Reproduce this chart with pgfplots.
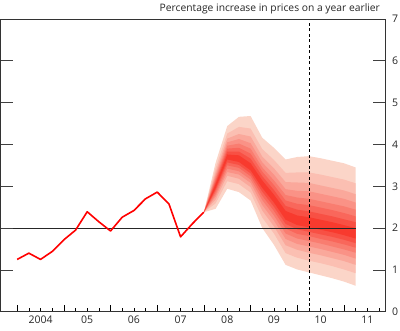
\documentclass[border=0pt]{standalone}
\usepackage{pgfplots}
\pgfplotsset{compat=1.18}
\usepackage{pgfplotstable}
\usepgfplotslibrary{fillbetween}
\usepackage{fontspec}
\setmainfont{Open Sans}
\definecolor{fanA}{RGB}{248,58,46}
\definecolor{fanZ}{RGB}{251,213,200}
\colorlet{f1}{fanA}
\colorlet{f2}{fanA!86!fanZ}
\colorlet{f3}{fanA!71!fanZ}
\colorlet{f4}{fanA!57!fanZ}
\colorlet{f5}{fanA!43!fanZ}
\colorlet{f6}{fanA!29!fanZ}
\colorlet{f7}{fanA!14!fanZ}
\colorlet{f8}{fanZ}

\pgfplotstableread{
q  u1   u2   u3   u4   u5   u6   u7   u8   l1   l2   l3   l4   l5   l6   l7   l8
16 2.38 2.38 2.38 2.38 2.38 2.38 2.38 2.38 2.38 2.38 2.38 2.38 2.38 2.38 2.38 2.38
17 3.05 3.10 3.15 3.20 3.26 3.33 3.43 3.56 2.95 2.91 2.86 2.80 2.75 2.68 2.59 2.46
18 3.76 3.83 3.90 3.97 4.05 4.14 4.26 4.44 3.64 3.57 3.50 3.42 3.34 3.25 3.12 2.94
19 3.74 3.83 3.92 4.02 4.13 4.25 4.42 4.66 3.58 3.51 3.44 3.36 3.28 3.18 3.05 2.86
20 3.55 3.66 3.78 3.90 4.03 4.19 4.38 4.68 3.38 3.31 3.24 3.16 3.08 2.98 2.85 2.66
21 3.14 3.24 3.35 3.45 3.57 3.71 3.89 4.16 2.96 2.87 2.77 2.67 2.55 2.42 2.25 2.00
22 2.80 2.91 3.03 3.14 3.28 3.43 3.63 3.92 2.61 2.51 2.41 2.30 2.18 2.04 1.87 1.60
23 2.41 2.53 2.66 2.79 2.93 3.10 3.32 3.64 2.20 2.10 1.99 1.87 1.74 1.59 1.40 1.12
24 2.30 2.44 2.58 2.73 2.89 3.09 3.33 3.70 2.07 1.97 1.86 1.75 1.62 1.48 1.29 1.01
25 2.26 2.40 2.55 2.70 2.88 3.08 3.33 3.72 2.02 1.91 1.81 1.69 1.56 1.41 1.22 0.94
26 2.20 2.34 2.49 2.64 2.82 3.02 3.28 3.67 1.96 1.85 1.74 1.63 1.50 1.35 1.16 0.87
27 2.14 2.28 2.43 2.58 2.76 2.96 3.22 3.61 1.90 1.79 1.68 1.56 1.43 1.28 1.09 0.80
28 2.07 2.21 2.36 2.52 2.70 2.90 3.16 3.55 1.83 1.72 1.61 1.49 1.36 1.21 1.01 0.72
29 2.00 2.14 2.28 2.44 2.61 2.81 3.07 3.45 1.75 1.64 1.53 1.41 1.27 1.12 0.92 0.62
}\fan

\pgfplotstableread{
q  v
0  1.25
1  1.40
2  1.25
3  1.44
4  1.72
5  1.95
6  2.39
7  2.15
8  1.93
9  2.26
10 2.42
11 2.70
12 2.86
13 2.58
14 1.79
15 2.10
16 2.38
}\cpi

\pgfplotsset{
  common/.style={
    scale only axis, width=385pt, height=292.7pt,
    xmin=-1.43, xmax=31.56, ymin=0, ymax=7,
    axis line style={black!80, line width=0.7pt},
    tick align=inside,
    every tick label/.append style={font=\fontsize{10.5}{12}\selectfont, text=black!85},
    /pgf/number format/assume math mode=true,
  }
}

\begin{document}
\begin{tikzpicture}
% main axis: data + quarterly ticks
\begin{axis}[common,
  xtick pos=bottom, ytick=\empty,
  xtick={0,4,...,28}, xticklabels={},
  minor xtick={1,2,3,5,6,7,9,10,11,13,14,15,17,18,19,21,22,23,25,26,27,29,30,31},
  major tick length=7pt, minor tick length=3.5pt,
  xtick style={black, line width=0.7pt},
]
\pgfplotsinvokeforeach{8,7,6,5,4,3,2,1}{
  \addplot[draw=none, name path=u#1, forget plot] table[x=q, y=u#1]{\fan};
  \addplot[draw=none, name path=l#1, forget plot] table[x=q, y=l#1]{\fan};
  \addplot[fill=f#1, draw=none, forget plot] fill between[of=u#1 and l#1];
}
\addplot[black!85, line width=0.8pt] coordinates {(-1.43,2) (29,2)};
\addplot[black, line width=0.8pt, dash pattern=on 3pt off 2.5pt] coordinates {(25,0) (25,7)};
\addplot[red, line width=1.6pt, line join=round] table[x=q, y=v]{\cpi};
\end{axis}
% y ticks
\begin{axis}[common,
  xtick=\empty,
  ytick={0,...,7}, ytick pos=both, yticklabel pos=right,
  major tick length=12pt,
  ytick style={black!75, line width=0.7pt},
  yticklabel style={xshift=3pt},
]
\end{axis}
% year labels
\begin{axis}[common,
  ytick=\empty, xtick pos=bottom,
  xtick={2,6,...,30}, xticklabels={2004,05,06,07,08,09,10,11},
  major tick length=0pt,
  xticklabel style={yshift=-0.5pt},
]
\end{axis}
\node[anchor=base east, font=\fontsize{10.3}{12}\selectfont, text=black!85] at ([xshift=-2pt, yshift=7.5pt]current axis.north east) {Percentage increase in prices on a year earlier};
\pgfresetboundingbox
\path (current axis.south west) ++(-0.5pt,-19.3pt) rectangle ++(400pt,331pt);
\end{tikzpicture}
\end{document}
